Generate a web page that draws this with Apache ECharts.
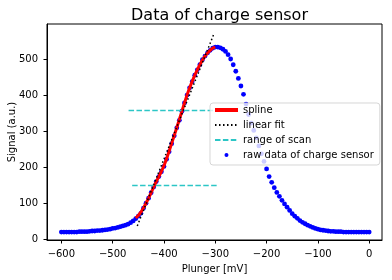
<!DOCTYPE html>
<html>
<head>
<meta charset="utf-8">
<script src="https://cdn.jsdelivr.net/npm/echarts@6/dist/echarts.min.js"></script>
<style>
  html, body { margin: 0; padding: 0; background: #fff; }
  #chart { width: 392px; height: 280px; }
</style>
</head>
<body>
<div id="chart"></div>
<script>
// plunger voltage of the raw sweep, -600 .. 0 mV in 5 mV steps
const plunger = [];
for (let v = -600; v <= 0; v += 5) plunger.push(v);

// raw charge sensor signal
const rawSignal = [
  20, 20, 20, 20, 20, 20, 20, 21, 21, 21,
  21, 22, 23, 23, 24, 24, 25, 26, 27, 28,
  30, 31, 33, 35, 37, 39, 42, 46, 51, 57,
  64, 72, 86, 100, 114, 129, 145, 160, 174, 187,
  202, 222, 243, 265, 287, 309, 330, 355, 378, 400,
  420, 437, 455, 470, 484, 498, 508, 517, 524, 530,
  533, 533, 531, 527, 521, 512, 500, 484, 466, 446,
  425, 402, 375, 346, 322, 302, 281, 259, 237, 216,
  195, 174, 158, 143, 130, 119, 108, 98, 89, 80,
  71, 64, 58, 52, 47, 43, 39, 36, 33, 30,
  28, 26, 25, 24, 23, 22, 22, 21, 21, 21,
  20, 20, 20, 20, 20, 20, 20, 20, 20, 20,
  20
];

// spline over the rising flank
const splineX = [
  -455, -450, -445, -440, -435, -430, -425, -420, -415, -410,
  -405, -400, -395, -390, -385, -380, -375, -370, -365, -360,
  -355, -350, -345, -340, -335, -330, -325, -320, -315, -310,
  -305, -300
];
const splineY = [
  59, 66, 75, 87, 100, 114, 129, 145, 160, 174,
  188, 204, 223, 244, 266, 288, 310, 332, 355, 378,
  400, 420, 438, 455, 470, 484, 497, 508, 517, 524,
  530, 533
];

// linear fit end points
const fitX = [-452, -302];
const fitY = [37, 572];

// range of scan levels
const scanLow = { y: 149, from: -462, to: -296 };
const scanHigh = { y: 357, from: -469, to: -300 };

const xTicks = [-600, -500, -400, -300, -200, -100, 0];
const yTicks = [0, 100, 200, 300, 400, 500];

const zip = (xs, ys) => xs.map((x, i) => [x, ys[i]]);
const minus = (v) => (v < 0 ? "\u2212" + -v : String(v));

const font = "DejaVu Sans";
const chart = echarts.init(document.getElementById("chart"));

const option = {
  animation: false,
  title: {
    text: "Data of charge sensor",
    left: 214.5,
    top: 3,
    textAlign: "center",
    textStyle: { fontFamily: font, fontSize: 16, fontWeight: "normal", color: "#000" },
  },
  grid: {
    left: 47,
    right: 10,
    top: 24,
    bottom: 40,
    outerBoundsMode: "none",
    containLabel: false,
    show: true,
    borderColor: "#000",
    borderWidth: 1,
  },
  legend: {
    orient: "vertical",
    left: 210,
    top: 103,
    padding: [1, 6, 4, 3],
    itemWidth: 23,
    itemHeight: 12,
    itemGap: 3,
    backgroundColor: "rgba(255,255,255,0.8)",
    borderColor: "rgba(204,204,204,0.8)",
    borderWidth: 1,
    borderRadius: 3,
    selectedMode: false,
    textStyle: { fontFamily: font, fontSize: 10, color: "#000", lineHeight: 12 },
    data: [
      { name: "spline", itemStyle: { opacity: 0 }, lineStyle: { width: 4 } },
      { name: "linear fit", itemStyle: { opacity: 0 } },
      { name: "range of scan", itemStyle: { opacity: 0 } },
      {
        name: "raw data of charge sensor",
        icon: "path://M0,0L0.01,0M23,12L23.01,12M11.5,4A2,2,0,1,1,11.49,4Z",
      },
    ],
  },
  xAxis: {
    type: "value",
    min: -628,
    max: 25,
    name: "Plunger [mV]",
    nameLocation: "middle",
    nameGap: 24,
    nameMoveOverlap: false,
    nameTextStyle: { fontFamily: font, fontSize: 10, color: "#000" },
    axisLine: { show: true, onZero: false, lineStyle: { color: "#000", width: 1 } },
    axisTick: { show: true, inside: false, length: 3.5, customValues: xTicks, lineStyle: { color: "#000" } },
    axisLabel: { customValues: xTicks, formatter: minus, margin: 9, fontFamily: font, fontSize: 10, color: "#000" },
    splitLine: { show: false },
  },
  yAxis: {
    type: "value",
    min: -2,
    max: 597,
    name: "Signal (a.u.)",
    nameLocation: "middle",
    nameGap: 30,
    nameMoveOverlap: false,
    nameRotate: 90,
    nameTextStyle: { fontFamily: font, fontSize: 10, color: "#000" },
    axisLine: { show: true, onZero: false, lineStyle: { color: "#000", width: 1 } },
    axisTick: { show: true, inside: false, length: 3.5, customValues: yTicks, lineStyle: { color: "#000" } },
    axisLabel: { customValues: yTicks, margin: 9, fontFamily: font, fontSize: 10, color: "#000" },
    splitLine: { show: false },
  },
  series: [
    {
      name: "spline",
      type: "line",
      data: zip(splineX, splineY),
      symbol: "none",
      color: "#ff0000",
      lineStyle: { color: "#ff0000", width: 3 },
    },
    {
      name: "linear fit",
      type: "line",
      data: zip(fitX, fitY),
      symbol: "none",
      color: "#000",
      lineStyle: { color: "#000", width: 1.5, type: [1.5, 2.5] },
    },
    {
      name: "range of scan",
      type: "line",
      data: [[scanHigh.from, scanHigh.y], [scanHigh.to, scanHigh.y]],
      symbol: "none",
      color: "#2cc6c6",
      lineStyle: { color: "#2cc6c6", width: 1.5, type: [5.5, 2.4] },
    },
    {
      name: "range of scan",
      type: "line",
      data: [[scanLow.from, scanLow.y], [scanLow.to, scanLow.y]],
      symbol: "none",
      color: "#2cc6c6",
      lineStyle: { color: "#2cc6c6", width: 1.5, type: [5.5, 2.4] },
    },
    {
      name: "raw data of charge sensor",
      type: "scatter",
      data: zip(plunger, rawSignal),
      symbol: "circle",
      symbolSize: 4.8,
      itemStyle: { color: "#0000ff", opacity: 1 },
    },
  ],
};

chart.setOption(option);
</script>
</body>
</html>
